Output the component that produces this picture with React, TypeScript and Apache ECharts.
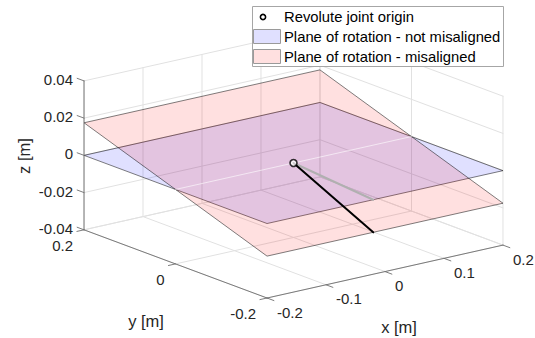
import React, { useEffect, useRef } from "react";
import * as echarts from "echarts";

// ---------- data ----------
const X_TICKS = [-0.2, -0.1, 0, 0.1, 0.2];
const Y_TICKS = [-0.2, 0, 0.2];
const Z_TICKS = [-0.04, -0.02, 0, 0.02, 0.04];
const X_LABELS = ["-0.2", "-0.1", "0", "0.1", "0.2"];
const Y_LABELS = ["-0.2", "0", "0.2"];
const Z_LABELS = ["-0.04", "-0.02", "0", "0.02", "0.04"];
const X_LIM = [-0.2, 0.2];
const Y_LIM = [-0.2, 0.2];
const Z_LIM = [-0.04, 0.04];

const PLANE_ALIGNED = [
  [-0.2, -0.2, 0],
  [0.2, -0.2, 0],
  [0.2, 0.2, 0],
  [-0.2, 0.2, 0],
];
const PLANE_MISALIGNED = [
  [-0.2, -0.2, -0.0175],
  [0.2, -0.2, -0.0175],
  [0.2, 0.2, 0.0175],
  [-0.2, 0.2, 0.0175],
];
const PLANE_INTERSECTION = [
  [-0.2, 0, 0],
  [0.2, 0, 0],
];
const JOINT_ORIGIN = [0, 0, 0];
const ARM_ALIGNED_END = [-0.02, -0.2, 0];
const ARM_MISALIGNED_END = [-0.02, -0.2, -0.0175];

const LEGEND_NAMES = [
  "Revolute joint origin",
  "Plane of rotation - not misaligned",
  "Plane of rotation - misaligned",
];

// ---------- view (layout) ----------
const W = 535;
const H = 338;
const AZ = (-37.8 * Math.PI) / 180;
const EL = (16.8 * Math.PI) / 180;
const Z_ASPECT = 0.521;
const SCALE = 298.6; // px per normalized box unit
const CX = 293.5; // pixel position of the box centre
const CY = 163;

function proj(p: number[]): [number, number] {
  const X = (p[0] - (X_LIM[0] + X_LIM[1]) / 2) / (X_LIM[1] - X_LIM[0]);
  const Y = (p[1] - (Y_LIM[0] + Y_LIM[1]) / 2) / (Y_LIM[1] - Y_LIM[0]);
  const Z = ((p[2] - (Z_LIM[0] + Z_LIM[1]) / 2) / (Z_LIM[1] - Z_LIM[0])) * Z_ASPECT;
  const u = Math.cos(AZ) * X + Math.sin(AZ) * Y;
  const v =
    -Math.sin(EL) * Math.sin(AZ) * X +
    Math.sin(EL) * Math.cos(AZ) * Y +
    Math.cos(EL) * Z;
  return [u, v];
}

const FONT = '"Liberation Sans", Arial, Helvetica, sans-serif';
const TEXT_COLOR = "#262626";

function segSeries(name: string, segs: number[][][], stroke: string, width: number, z: number, opacity = 1) {
  return {
    type: "custom",
    name,
    z,
    silent: true,
    clip: false,
    data: segs.map(([a, b]) => [...proj(a), ...proj(b)]),
    renderItem: (_params: any, api: any) => {
      const p1 = api.coord([api.value(0), api.value(1)]);
      const p2 = api.coord([api.value(2), api.value(3)]);
      return {
        type: "line",
        shape: { x1: p1[0], y1: p1[1], x2: p2[0], y2: p2[1] },
        style: { stroke, lineWidth: width, opacity, lineCap: "round" },
      };
    },
  };
}

function planeSeries(name: string, corners: number[][], fill: string, z: number) {
  return {
    type: "custom",
    name,
    z,
    silent: true,
    clip: false,
    data: [corners.map(proj).flat()],
    renderItem: (_params: any, api: any) => {
      const pts: number[][] = [];
      for (let i = 0; i < corners.length; i++) {
        pts.push(api.coord([api.value(2 * i), api.value(2 * i + 1)]));
      }
      return {
        type: "polygon",
        shape: { points: pts },
        style: { fill, stroke: "rgba(0,0,0,0.72)", lineWidth: 0.7 },
      };
    },
  };
}

function labelSeries(
  name: string,
  anchors: number[][],
  texts: string[],
  dx: number,
  dy: number,
  align: string
) {
  return {
    type: "custom",
    name,
    z: 10,
    silent: true,
    clip: false,
    data: anchors.map((a, i) => [...proj(a), i]),
    renderItem: (_params: any, api: any) => {
      const p = api.coord([api.value(0), api.value(1)]);
      return {
        type: "text",
        x: p[0] + dx,
        y: p[1] + dy,
        style: {
          text: texts[api.value(2)],
          align,
          verticalAlign: "middle",
          textAlign: align,
          textVerticalAlign: "middle",
          fill: TEXT_COLOR,
          fontSize: 15,
          lineHeight: 13,
          fontFamily: FONT,
        },
      };
    },
  };
}

export default function App() {
  const ref = useRef<HTMLDivElement>(null);

  useEffect(() => {
    document.body.style.margin = "0";
    const chart = echarts.init(ref.current!, null, { renderer: "svg" });

    const [x0, x1] = X_LIM;
    const [y0, y1] = Y_LIM;
    const [z0, z1] = Z_LIM;

    // grid lines on the back walls and floor
    const grid: number[][][] = [];
    X_TICKS.forEach((x) => {
      grid.push([[x, y1, z0], [x, y1, z1]]);
      grid.push([[x, y0, z0], [x, y1, z0]]);
    });
    Y_TICKS.forEach((y) => {
      grid.push([[x1, y, z0], [x1, y, z1]]);
      grid.push([[x0, y, z0], [x1, y, z0]]);
    });
    Z_TICKS.forEach((z) => {
      grid.push([[x0, y1, z], [x1, y1, z]]);
      grid.push([[x1, y0, z], [x1, y1, z]]);
    });

    // axis lines + ticks
    const axes: number[][][] = [
      [[x0, y0, z0], [x1, y0, z0]],
      [[x0, y0, z0], [x0, y1, z0]],
      [[x0, y1, z0], [x0, y1, z1]],
    ];
    const TL_X = 0.012;
    const TL_Y = 0.015;
    X_TICKS.forEach((x) => axes.push([[x, y0, z0], [x, y0 - TL_Y, z0]]));
    Y_TICKS.forEach((y) => axes.push([[x0, y, z0], [x0 - TL_X, y, z0]]));
    Z_TICKS.forEach((z) => axes.push([[x0, y1, z], [x0, y1 + TL_Y, z]]));

    const origin = proj(JOINT_ORIGIN);

    chart.setOption({
      animation: false,
      grid: { left: 0, right: 0, top: 0, bottom: 0 },
      xAxis: { type: "value", min: -CX / SCALE, max: (W - CX) / SCALE, show: false },
      yAxis: { type: "value", min: -(H - CY) / SCALE, max: CY / SCALE, show: false },
      series: [
        segSeries("grid", grid, "#e1e1e1", 1, 1),
        planeSeries(LEGEND_NAMES[1], PLANE_ALIGNED, "rgba(0,0,255,0.12)", 2),
        planeSeries(LEGEND_NAMES[2], PLANE_MISALIGNED, "rgba(255,0,0,0.12)", 3),
        segSeries("intersection", [PLANE_INTERSECTION], "#ffffff", 1, 4, 0.6),
        segSeries("axes", axes, "#6e6e6e", 0.9, 5),
        segSeries("arm aligned", [[JOINT_ORIGIN, ARM_ALIGNED_END]], "#b0b0b0", 2, 6),
        segSeries("arm misaligned", [[JOINT_ORIGIN, ARM_MISALIGNED_END]], "#000000", 2, 7),
        {
          type: "scatter",
          name: LEGEND_NAMES[0],
          z: 8,
          silent: true,
          symbol: "circle",
          symbolSize: 7,
          itemStyle: { color: "#ffffff", borderColor: "#000000", borderWidth: 1.6 },
          data: [origin],
        },
        labelSeries("xlabels", X_TICKS.map((x) => [x, y0, z0]), X_LABELS, 10, 14, "left"),
        labelSeries("ylabels", Y_TICKS.map((y) => [x0, y, z0]), Y_LABELS, -11, 15.5, "right"),
        labelSeries("zlabels", Z_TICKS.map((z) => [x0, y1, z]), Z_LABELS, -11, -1.5, "right"),
      ],
      graphic: [
        // axis titles
        {
          type: "text",
          x: 24,
          y: 156,
          rotation: Math.PI / 2,
          style: {
            text: "z [m]",
            fontSize: 16.5,
            fontFamily: FONT,
            fill: TEXT_COLOR,
            align: "center",
            verticalAlign: "middle",
          },
        },
        {
          type: "text",
          x: 146,
          y: 321,
          style: {
            text: "y [m]",
            fontSize: 16.5,
            fontFamily: FONT,
            fill: TEXT_COLOR,
            align: "center",
            verticalAlign: "middle",
          },
        },
        {
          type: "text",
          x: 399,
          y: 327,
          style: {
            text: "x [m]",
            fontSize: 16.5,
            fontFamily: FONT,
            fill: TEXT_COLOR,
            align: "center",
            verticalAlign: "middle",
          },
        },
        // legend
        {
          type: "rect",
          shape: { x: 252.5, y: 6.5, width: 251, height: 60 },
          style: { fill: "#ffffff", stroke: "#a6a6a6", lineWidth: 1 },
          z: 20,
        },
        {
          type: "circle",
          shape: { cx: 263, cy: 17, r: 2.6 },
          style: { fill: "#ffffff", stroke: "#000000", lineWidth: 1.6 },
          z: 21,
        },
        {
          type: "rect",
          shape: { x: 253.5, y: 29.5, width: 27, height: 14 },
          style: { fill: "#e0e0ff", stroke: "#9a9a9a", lineWidth: 1 },
          z: 21,
        },
        {
          type: "rect",
          shape: { x: 253.5, y: 49.5, width: 27, height: 14 },
          style: { fill: "#ffe0e0", stroke: "#9a9a9a", lineWidth: 1 },
          z: 21,
        },
        ...LEGEND_NAMES.map((t, i) => ({
          type: "text",
          x: 284,
          y: 17 + 20 * i,
          z: 21,
          style: {
            text: t,
            fontSize: 14.8,
            fontFamily: FONT,
            fill: "#000000",
            align: "left",
            verticalAlign: "middle",
          },
        })),
      ],
    });

    return () => chart.dispose();
  }, []);

  return (
    <div
      ref={ref}
      style={{ position: "fixed", left: 0, top: 0, width: W, height: H, background: "#fff" }}
    />
  );
}
